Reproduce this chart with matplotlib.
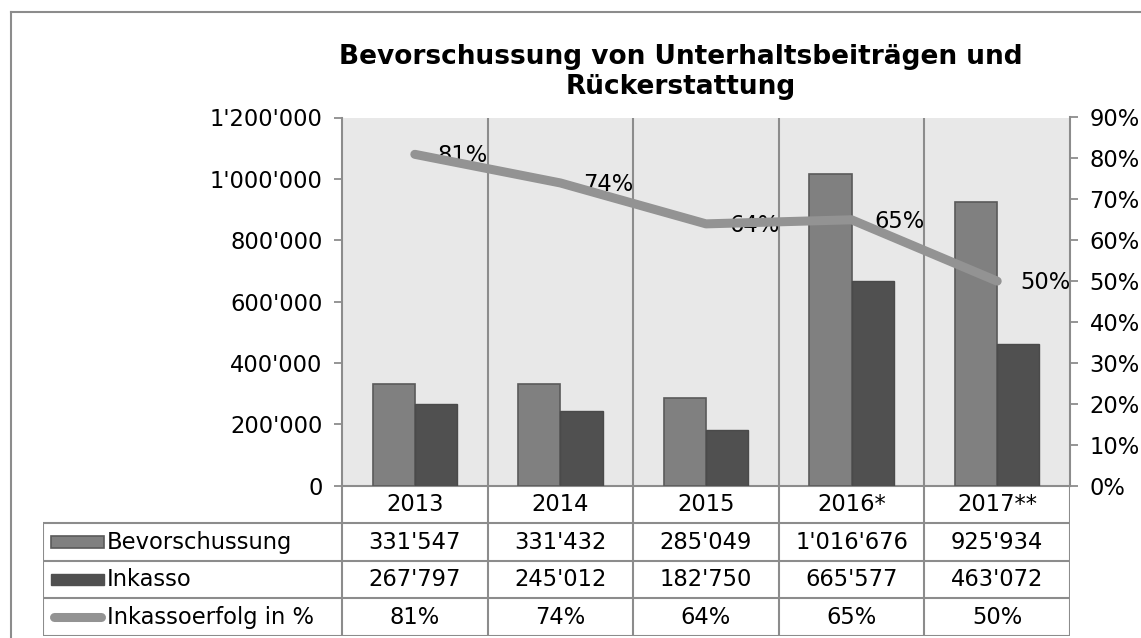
import matplotlib.pyplot as plt
import numpy as np
from matplotlib.lines import Line2D
from matplotlib.patches import Rectangle

years = ['2013', '2014', '2015', '2016*', '2017**']
bevorschussung = [331547, 331432, 285049, 1016676, 925934]
inkasso = [267797, 245012, 182750, 665577, 463072]
erfolg = [0.81, 0.74, 0.64, 0.65, 0.50]

series_names = ['Bevorschussung', 'Inkasso', 'Inkassoerfolg in %']
title = 'Bevorschussung von Unterhaltsbeiträgen und\nRückerstattung'

c_bev = '#808080'
c_ink = '#505050'
c_line = '#939393'
c_grid = '#8c8c8c'
c_bg = '#e8e8e8'

plt.rcParams['font.family'] = ['DejaVu Sans']
fs = 16.3


def fmt_num(v):
    return f'{int(round(v)):,}'.replace(',', "'")


W, H = 1141, 638
fig = plt.figure(figsize=(W / 100, H / 100), dpi=100)

# pixel layout
px_left, px_right, px_top, px_bot = 342, 1070, 117.5, 485.7
tbl_left, tbl_bot = 43, 636

ax = fig.add_axes([px_left / W, 1 - px_bot / H, (px_right - px_left) / W, (px_bot - px_top) / H])
ax.set_facecolor(c_bg)
idx = np.arange(len(years))
bw = 0.29
ax.bar(idx - bw / 2, bevorschussung, width=bw, color=c_bev, edgecolor='#5a5a5a', linewidth=1.2, zorder=3)
ax.bar(idx + bw / 2, inkasso, width=bw, color=c_ink, edgecolor='#4a4a4a', linewidth=1.0, zorder=3)
for b in idx[:-1] + 0.5:
    ax.axvline(b, color=c_grid, linewidth=1.5, zorder=1)
ax.set_xlim(-0.5, len(years) - 0.5)
ax.set_ylim(0, 1200000)
ax.set_yticks(np.arange(0, 1200001, 200000))
ax.set_yticklabels([fmt_num(v) for v in np.arange(0, 1200001, 200000)], fontsize=fs)
ax.set_xticks([])
ax.tick_params(axis='y', length=5.5, width=1.3, color=c_grid, pad=8.5)
for s in ['top', 'right']:
    ax.spines[s].set_visible(False)
for s in ['left', 'bottom']:
    ax.spines[s].set_color(c_grid)
    ax.spines[s].set_linewidth(1.5)

ax2 = ax.twinx()
ax2.plot(idx, erfolg, color=c_line, linewidth=6.5, solid_capstyle='round', solid_joinstyle='round', zorder=4)
for i, v in enumerate(erfolg):
    ax2.annotate(f'{v:.0%}', (idx[i], v), xytext=(16.5, -1), textcoords='offset points',
                 ha='left', va='center', fontsize=fs)
ax2.set_ylim(0, 0.9)
ax2.set_yticks(np.arange(0, 0.91, 0.1))
ax2.set_yticklabels([f'{v:.0%}' for v in np.arange(0, 0.91, 0.1)], fontsize=fs)
ax2.tick_params(axis='y', length=5.5, width=1.3, color=c_grid, pad=8.5)
for s in ['top', 'left', 'bottom']:
    ax2.spines[s].set_visible(False)
ax2.spines['right'].set_color(c_grid)
ax2.spines['right'].set_linewidth(1.5)

fig.text(681 / W, 1 - 72.5 / H, title, ha='center', va='center', fontsize=19,
         fontweight='bold', family='DejaVu Sans', linespacing=1.2)

# data table below the plot
cat_w = (px_right - px_left) / len(years)
x0 = -0.5 - (px_left - tbl_left) / cat_w
tax = fig.add_axes([tbl_left / W, 1 - tbl_bot / H, (px_right - tbl_left) / W, (tbl_bot - px_bot) / H])
tax.set_xlim(x0, len(years) - 0.5)
tax.set_ylim(0, 4)
tax.axis('off')
lk = dict(color=c_grid, linewidth=1.5, solid_capstyle='butt')
for b in np.arange(len(years) + 1) - 0.5:
    tax.plot([b, b], [0, 4], **lk)
tax.plot([x0, x0], [0, 3], **lk)
for r in [0, 1, 2, 3]:
    tax.plot([x0, len(years) - 0.5], [r, r], **lk)

rows = [[fmt_num(v) for v in bevorschussung], [fmt_num(v) for v in inkasso], [f'{v:.0%}' for v in erfolg]]
for i, y in enumerate(years):
    tax.text(idx[i], 3.5, y, ha='center', va='center', fontsize=fs)
    for r, vals in enumerate(rows):
        tax.text(idx[i], 2.5 - r, vals[i], ha='center', va='center', fontsize=fs)

sw_x = x0 + 8 / cat_w
sw_w = 53 / cat_w
tax.add_patch(Rectangle((sw_x, 2.5 - 0.15), sw_w, 0.3, facecolor=c_bev, edgecolor='#5a5a5a', linewidth=1.2))
tax.add_patch(Rectangle((sw_x, 1.5 - 0.15), sw_w, 0.3, facecolor=c_ink, edgecolor=c_ink, linewidth=1.0))
tax.plot([sw_x + 0.02, sw_x + sw_w - 0.02], [0.5, 0.5], color=c_line, linewidth=6.5, solid_capstyle='round')
for r, name in enumerate(series_names):
    tax.text(x0 + 64 / cat_w, 2.5 - r, name, ha='left', va='center', fontsize=fs)

# outer frame (only top and left edge are visible)
fig.add_artist(Line2D([11 / W, 1], [1 - 12 / H, 1 - 12 / H], color=c_grid, linewidth=1.5))
fig.add_artist(Line2D([11 / W, 11 / W], [0, 1 - 12 / H], color=c_grid, linewidth=1.5))

fig.savefig('out.png', dpi=100)
